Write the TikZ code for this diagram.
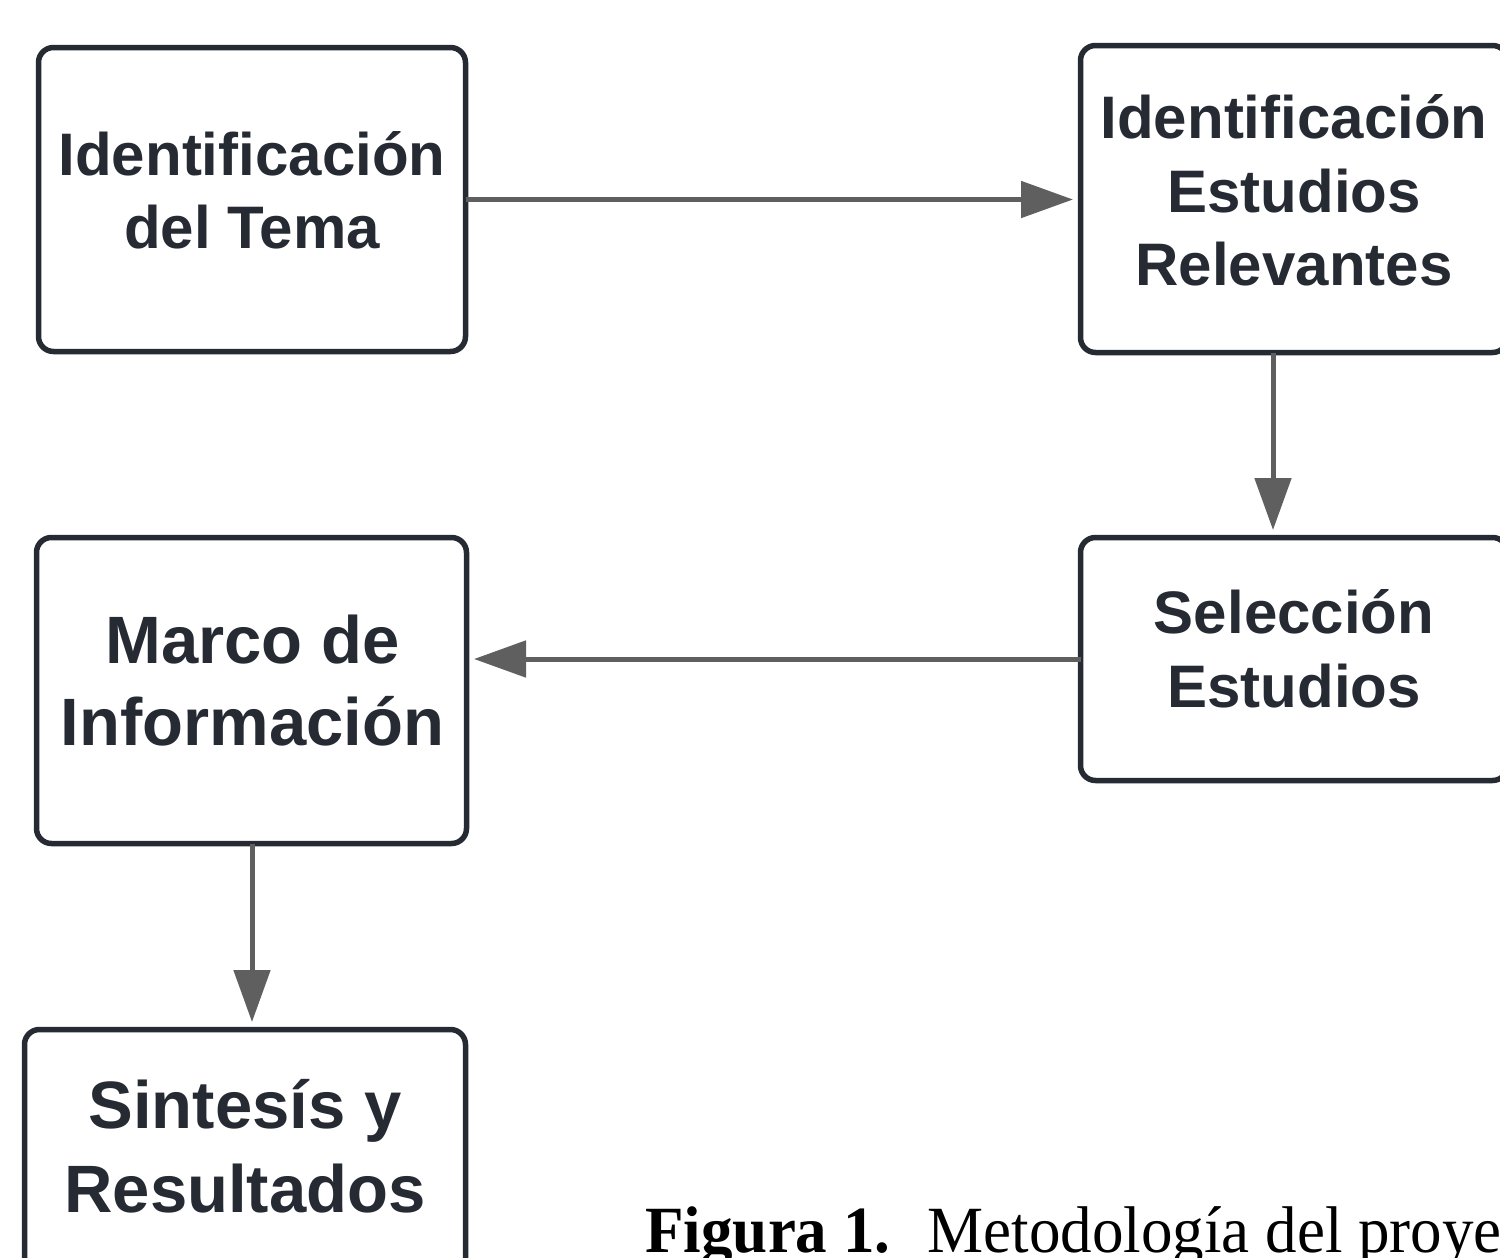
\documentclass[tikz,border=0pt]{standalone}
\usepackage{fontspec}
\setmainfont{Liberation Sans}
\newfontfamily\capfont{Liberation Serif}
\usetikzlibrary{arrows.meta}
\definecolor{ink}{HTML}{262A33}
\definecolor{arr}{HTML}{5F5F5F}
\begin{document}
\begin{tikzpicture}[x=0.5pt,y=-0.5pt,
  stepbox/.style={draw=ink, line width=2.75pt, rounded corners=7.5pt, outer sep=0pt, inner sep=0pt},
  lbl/.style={anchor=base, text=ink, inner sep=0pt, font=\fontsize{30pt}{36pt}\selectfont\bfseries},
  lblbig/.style={anchor=base, text=ink, inner sep=0pt, font=\fontsize{33.5pt}{40pt}\selectfont\bfseries},
  flow/.style={draw=arr, line width=2.5pt, -{Triangle[length=26pt,width=18pt]}, shorten >=3.75pt}
]
\useasboundingbox (0,0) rectangle (1500,1258);
\clip (0,0) rectangle (1500,1258);
\fill[white] (0,0) rectangle (1500,1258);

% boxes
\node[stepbox, minimum width=213.5pt, minimum height=152pt] (a) at (252,199.5) {};
\node[stepbox, minimum width=213.5pt, minimum height=153.5pt] (b) at (1294,199) {};
\node[stepbox, minimum width=213.5pt, minimum height=121.5pt] (c) at (1294,659) {};
\node[stepbox, minimum width=215pt, minimum height=153pt] (d) at (251.5,690.5) {};
\node[stepbox, minimum width=220.5pt, minimum height=153pt] (e) at (245,1182.5) {};

% texts
\node[lbl] (a1) at (252,175) {Identificación};
\node[lbl] (a2) at (252,248) {del Tema};
\node[lbl] (b1) at (1294,138) {Identificación};
\node[lbl] (b2) at (1294,212) {Estudios};
\node[lbl] (b3) at (1294,285) {Relevantes};
\node[lbl] (c1) at (1294,633) {Selección};
\node[lbl] (c2) at (1294,707) {Estudios};
\node[lblbig] (d1) at (252.5,663) {Marco de};
\node[lblbig] (d2) at (252.5,745) {Información};
\node[lblbig] (e1) at (245,1128) {Sintesís y};
\node[lblbig] (e2) at (245,1212) {Resultados};

% connectors
\draw[flow] (a.east) -- (a.east -| b.west);
\draw[flow] ([xshift=-10.5pt]b.south) -- ([xshift=-10.5pt]b.south |- c.north);
\draw[flow] (c.west) -- (c.west -| d.east);
\draw[flow] ([xshift=0.25pt]d.south) -- ([xshift=0.25pt]d.south |- e.north);

% caption
\node[anchor=base west, inner sep=0pt, text=black, font=\capfont\fontsize{33pt}{40pt}\selectfont] (cap) at (645,1252)
  {\scalebox{0.955}[1]{\textbf{Figura 1.}\hspace{19.5pt}Metodología del proye}};
\end{tikzpicture}
\end{document}
